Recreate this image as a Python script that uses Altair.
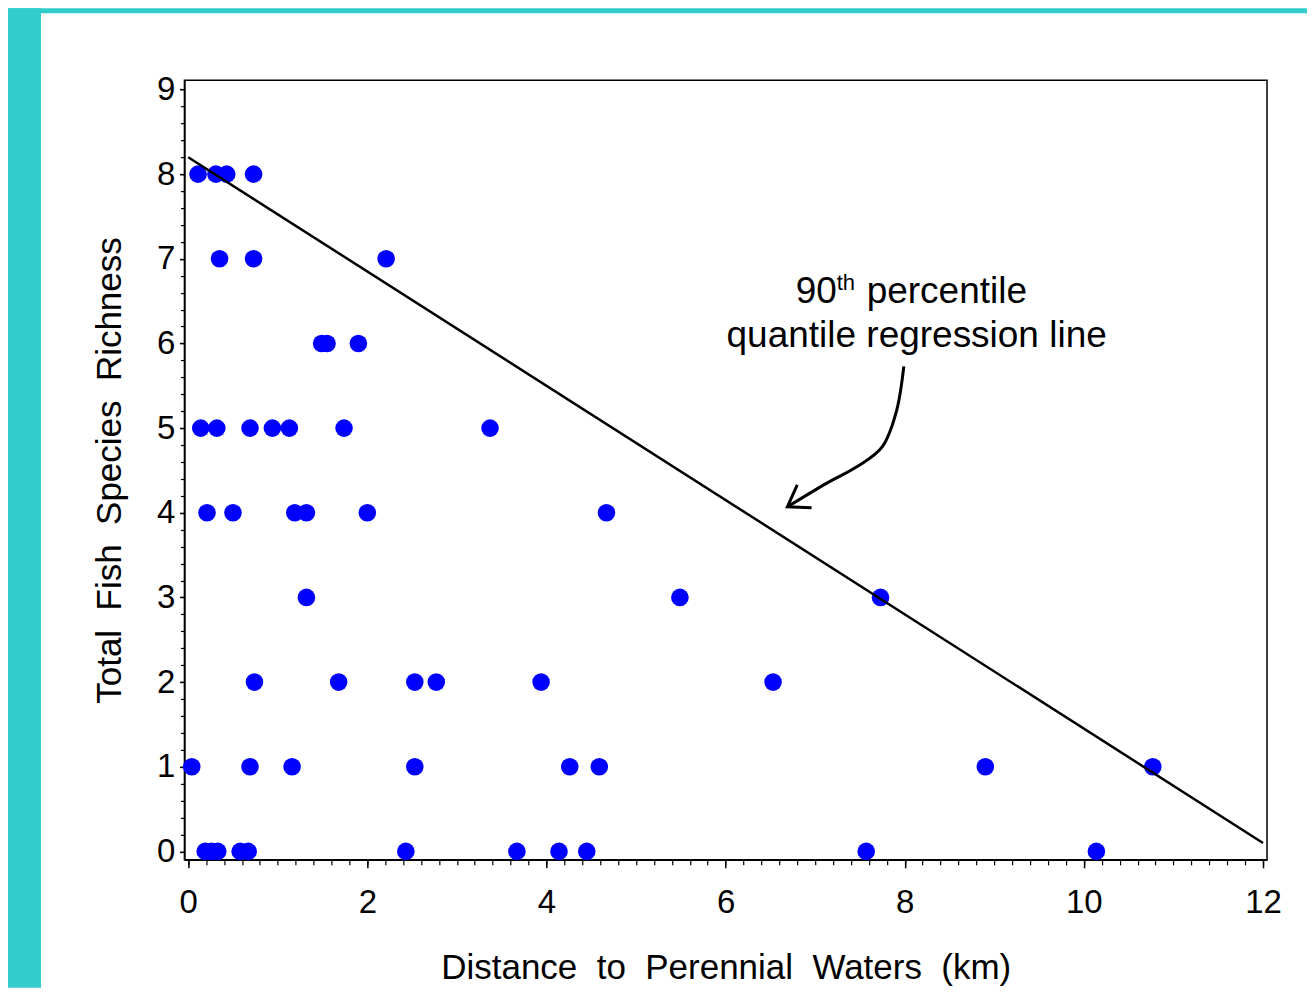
import altair as alt
import pandas as pd

# ---------------- data ----------------
distance_km = [0.11, 0.31, 0.43, 0.73,
               0.35, 0.73, 2.21,
               1.49, 1.55, 1.90,
               0.14, 0.32, 0.69, 0.94, 1.13, 1.74, 3.37,
               0.21, 0.50, 1.19, 1.32, 2.00, 4.67,
               1.32, 5.49, 7.73,
               0.74, 1.68, 2.53, 2.77, 3.94, 6.53,
               0.04, 0.69, 1.16, 2.53, 4.26, 4.59, 8.90, 10.77,
               0.19, 0.26, 0.33, 0.58, 0.67, 2.43, 3.67, 4.14, 4.45, 7.57, 10.14]
richness = [8, 8, 8, 8,
            7, 7, 7,
            6, 6, 6,
            5, 5, 5, 5, 5, 5, 5,
            4, 4, 4, 4, 4, 4,
            3, 3, 3,
            2, 2, 2, 2, 2, 2,
            1, 1, 1, 1, 1, 1, 1, 1,
            0, 0, 0, 0, 0, 0, 0, 0, 0, 0, 0]

# 90th percentile quantile regression line end points
reg_x = [0.0, 12.0]
reg_y = [8.2, 0.1]

# annotation arrow (curve + head), in data units
arrow_x = [7.99, 7.91, 7.75, 7.46, 7.13, 6.69]
arrow_y = [5.73, 5.21, 4.78, 4.54, 4.35, 4.07]
head_x = [6.80, 6.69, 6.96]
head_y = [4.33, 4.07, 4.06]

x_major = [0, 2, 4, 6, 8, 10, 12]
y_major = [0, 1, 2, 3, 4, 5, 6, 7, 8, 9]
x_minor = [round(i * 0.2, 1) for i in range(61)]
y_minor = [round(i * 0.2, 1) for i in range(46)]

NB = "\u00a0"
x_title = f"Distance {NB}to {NB}Perennial {NB}Waters {NB}(km)"
y_title = f"Total {NB}Fish {NB}Species {NB}Richness"

# ---------------- layout ----------------
W, H = 1083, 780
PAD_L, PAD_T, PAD_R, PAD_B = 176.5, 72, 40, 128
TEAL = "#33CCCC"
FONT = "Liberation Sans"

xs = alt.Scale(domain=[-0.042, 12.045], nice=False, zero=False)
ys = alt.Scale(domain=[-0.1, 9.11], nice=False, zero=False)

one = pd.DataFrame({"k": [0]})

teal_left = alt.Chart(one).mark_rect(color=TEAL).encode(
    x=alt.value(-PAD_L), x2=alt.value(-143.5),
    y=alt.value(-PAD_T), y2=alt.value(H + PAD_B))
teal_top = alt.Chart(one).mark_rect(color=TEAL).encode(
    x=alt.value(-PAD_L), x2=alt.value(W + PAD_R + 10),
    y=alt.value(-PAD_T), y2=alt.value(-67))

pts = pd.DataFrame({"d": distance_km, "r": richness})
points = alt.Chart(pts).mark_circle(size=310, color="#0000FF", opacity=1).encode(
    x=alt.X("d:Q", scale=xs, axis=alt.Axis(
        values=x_major, format="d", orient="bottom",
        labelFont=FONT, labelFontSize=33, labelColor="black", labelPadding=19,
        labelFlush=False, tickSize=8, tickColor="black", tickWidth=1.5,
        domainColor="black", domainWidth=1.5, grid=False,
        title=x_title, titleFont=FONT, titleFontSize=35, titleFontWeight="normal",
        titleColor="black", titleY=119, titleBaseline="alphabetic")),
    y=alt.Y("r:Q", scale=ys, axis=alt.Axis(
        values=y_major, format="d", orient="left",
        labelFont=FONT, labelFontSize=33, labelColor="black", labelPadding=4.5,
        labelFlush=False, tickSize=5, tickColor="black", tickWidth=1.5,
        domainColor="black", domainWidth=1.5, grid=False,
        title=y_title, titleFont=FONT, titleFontSize=35, titleFontWeight="normal",
        titleColor="black", titleX=-63.5, titleBaseline="alphabetic")),
)

reg = pd.DataFrame({"d": reg_x, "r": reg_y})
line = alt.Chart(reg).mark_line(color="black", strokeWidth=2.5).encode(
    x=alt.X("d:Q", scale=xs, axis=alt.Axis(
        values=x_minor, labels=False, domain=False, grid=False, orient="bottom",
        tickSize=5, tickColor="black", tickWidth=1.2, title="")),
    y=alt.Y("r:Q", scale=ys, axis=alt.Axis(
        values=y_minor, labels=False, domain=False, grid=False, orient="left",
        tickSize=4, tickColor="black", tickWidth=1.2, title="")),
)

arr = pd.DataFrame({"d": arrow_x, "r": arrow_y, "o": list(range(len(arrow_x)))})
arrow = alt.Chart(arr).mark_line(color="black", strokeWidth=3, interpolate="cardinal").encode(
    x=alt.X("d:Q", scale=xs, axis=None),
    y=alt.Y("r:Q", scale=ys, axis=None),
    order="o:Q")

hd = pd.DataFrame({"d": head_x, "r": head_y, "o": list(range(len(head_x)))})
head = alt.Chart(hd).mark_line(color="black", strokeWidth=3).encode(
    x=alt.X("d:Q", scale=xs, axis=None),
    y=alt.Y("r:Q", scale=ys, axis=None),
    order="o:Q")

def label(text, x, y, size, align="left"):
    return alt.Chart(one).mark_text(
        text=text, font=FONT, fontSize=size, color="black",
        align=align, baseline="alphabetic").encode(
        x=alt.value(x), y=alt.value(y))

t90 = label("90", 611.5, 223, 37)
tth = label("th", 652.5, 210, 22)
tpc = label("percentile", 682.5, 223, 37)
tq = label("quantile regression line", 732.5, 267, 37, align="center")

chart = alt.layer(
    teal_left, teal_top, points, line, arrow, head, t90, tth, tpc, tq
).resolve_axis(
    x="independent", y="independent"
).properties(
    width=W, height=H,
    autosize=alt.AutoSizeParams(type="none"),
    padding={"left": PAD_L, "top": PAD_T, "right": PAD_R, "bottom": PAD_B},
    background="white",
).configure_view(stroke="black", strokeWidth=1.5)

chart.save("out.html", embed_options={"renderer": "svg", "actions": False})
